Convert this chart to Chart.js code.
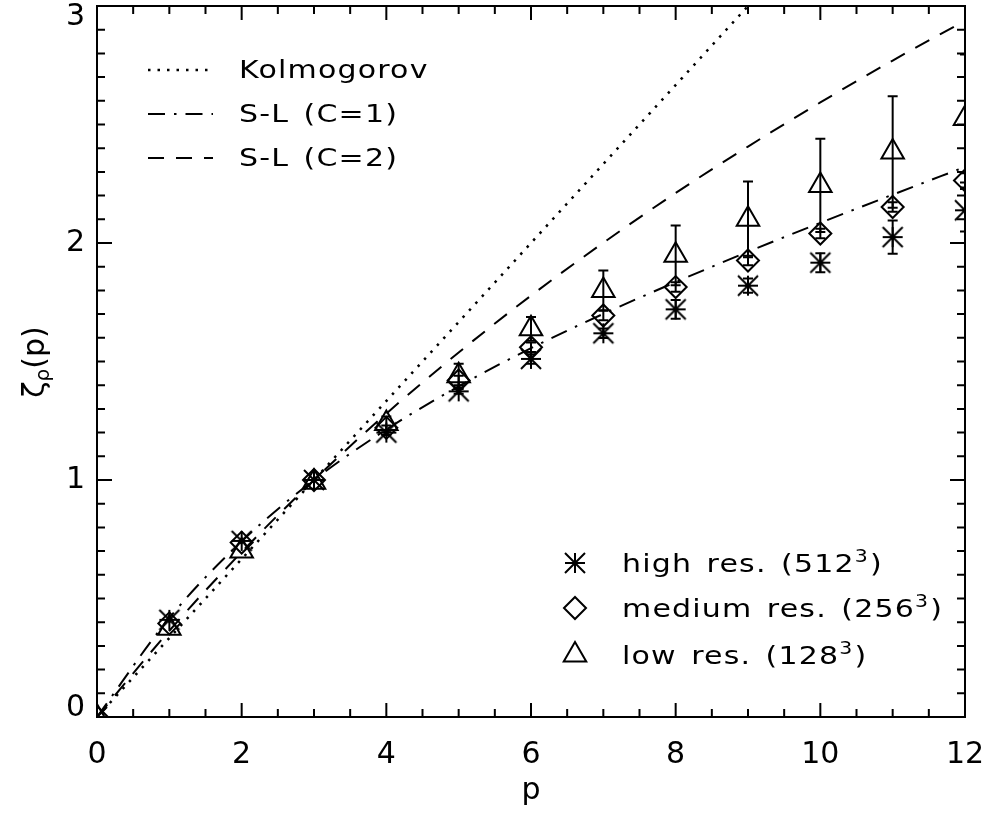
<!DOCTYPE html>
<html>
<head>
<meta charset="utf-8">
<script src="https://cdn.jsdelivr.net/npm/chart.js@4.4.0/dist/chart.umd.min.js"></script>
<style>
  html, body { margin: 0; padding: 0; background: #fff; }
  canvas { display: block; }
</style>
</head>
<body>
<canvas id="zetaChart" width="990" height="819"></canvas>
<script>
// moment order p of the structure functions
const orders = [0, 1, 2, 3, 4, 5, 6, 7, 8, 9, 10, 11, 12];

// measured scaling exponents and their errors
const highRes = [0, 0.41, 0.743, 1.0, 1.20, 1.374, 1.511, 1.619, 1.72, 1.82, 1.917, 2.025, 2.138];
const highResErr = [0, 0, 0, 0, 0.01, 0.01, 0.02, 0.02, 0.04, 0.03, 0.04, 0.07, 0.09];
const mediumRes = [0, 0.395, 0.736, 1.0, 1.22, 1.42, 1.56, 1.694, 1.814, 1.926, 2.04, 2.152, 2.264];
const mediumResErr = [0, 0, 0, 0, 0.01, 0.02, 0.02, 0.02, 0.02, 0.02, 0.02, 0.02, 0.03];
const lowRes = [0, 0.375, 0.70, 0.99, 1.238, 1.44, 1.638, 1.80, 1.948, 2.10, 2.243, 2.384, 2.525];
const lowResErr = [0, 0, 0, 0, 0.03, 0.05, 0.05, 0.084, 0.126, 0.16, 0.197, 0.235, 0.27];

// model curves
const kolmogorovOrders = [0, 9];
const kolmogorov = [0, 3];
const sheLevequeC1 = [0, 0.418, 0.741, 1.0, 1.213, 1.395, 1.556, 1.701, 1.835, 1.963, 2.085, 2.204, 2.321];
const sheLevequeC2 = [0, 0.364, 0.696, 1.0, 1.280, 1.538, 1.778, 2.001, 2.211, 2.407, 2.593, 2.770, 2.938];

const xTicks = [0, 2, 4, 6, 8, 10, 12];
const yTicks = [0, 1, 2, 3];

const FONT = '"DejaVu Sans", sans-serif';
const DOTS = [2.5, 7];
const DASH_DOT = [17, 9, 2.5, 9];
const DASHES = [16, 12];
const WIDEN = 1.2;

function toPoints(xs, ys) {
  return xs.map((x, i) => ({ x: x, y: ys[i] }));
}

// IDL-like asterisk: eight arms filling a square
function makeAsterisk(r) {
  const c = document.createElement('canvas');
  const s = 2 * r + 4;
  c.width = s; c.height = s;
  const g = c.getContext('2d');
  const m = s / 2;
  g.strokeStyle = '#000';
  g.lineWidth = 2;
  g.beginPath();
  g.moveTo(m - r, m); g.lineTo(m + r, m);
  g.moveTo(m, m - r); g.lineTo(m, m + r);
  g.moveTo(m - r, m - r); g.lineTo(m + r, m + r);
  g.moveTo(m + r, m - r); g.lineTo(m - r, m + r);
  g.stroke();
  return c;
}
const asterisk = makeAsterisk(10);

// horizontally stretched text, returns advance width
function wideText(ctx, text, x, y) {
  if ('wordSpacing' in ctx) ctx.wordSpacing = '3px';
  if ('letterSpacing' in ctx) ctx.letterSpacing = '1px';
  const w = ctx.measureText(text).width * WIDEN;
  ctx.save();
  ctx.translate(x, y);
  ctx.scale(WIDEN, 1);
  ctx.fillText(text, 0, 0);
  ctx.restore();
  if ('wordSpacing' in ctx) ctx.wordSpacing = '0px';
  if ('letterSpacing' in ctx) ctx.letterSpacing = '0px';
  return w;
}

// IDL-style frame: inward ticks on all four sides, labels, titles, legends
const idlAxes = {
  id: 'idlAxes',
  beforeDatasetsDraw(chart) {
    const { ctx, chartArea, scales } = chart;
    const xs = scales.x, ys = scales.y;
    ctx.save();
    ctx.beginPath();
    ctx.rect(chartArea.left, chartArea.top, chartArea.right - chartArea.left, chartArea.bottom - chartArea.top);
    ctx.clip();
    ctx.strokeStyle = '#000';
    ctx.lineWidth = 2;
    const sets = [[highRes, highResErr], [mediumRes, mediumResErr], [lowRes, lowResErr]];
    sets.forEach(([vals, errs]) => {
      orders.forEach((p, i) => {
        if (!errs[i]) return;
        const x = xs.getPixelForValue(p);
        const y1 = ys.getPixelForValue(vals[i] + errs[i]);
        const y2 = ys.getPixelForValue(vals[i] - errs[i]);
        ctx.beginPath();
        ctx.moveTo(x, y1); ctx.lineTo(x, y2);
        ctx.moveTo(x - 5, y1); ctx.lineTo(x + 5, y1);
        ctx.moveTo(x - 5, y2); ctx.lineTo(x + 5, y2);
        ctx.stroke();
      });
    });
    ctx.restore();
  },
  afterDraw(chart) {
    const { ctx, chartArea: a, scales } = chart;
    const xs = scales.x, ys = scales.y;
    ctx.save();
    ctx.strokeStyle = '#000';
    ctx.fillStyle = '#000';
    ctx.lineWidth = 2;
    ctx.setLineDash([]);
    ctx.strokeRect(a.left, a.top, a.right - a.left, a.bottom - a.top);

    // x ticks, every 0.5, major every 2
    ctx.beginPath();
    for (let k = 0; k <= 24; k++) {
      const x = xs.getPixelForValue(k * 0.5);
      const len = (k % 4 === 0) ? 14 : 8;
      ctx.moveTo(x, a.bottom); ctx.lineTo(x, a.bottom - len);
      ctx.moveTo(x, a.top); ctx.lineTo(x, a.top + len);
    }
    // y ticks, every 0.1, major every 1
    for (let k = 0; k <= 30; k++) {
      const y = ys.getPixelForValue(k / 10);
      const len = (k % 10 === 0) ? 15 : 8;
      ctx.moveTo(a.left, y); ctx.lineTo(a.left + len, y);
      ctx.moveTo(a.right, y); ctx.lineTo(a.right - len, y);
    }
    ctx.stroke();

    // tick labels
    ctx.font = '30px ' + FONT;
    ctx.textAlign = 'center';
    ctx.textBaseline = 'middle';
    xTicks.forEach(v => {
      ctx.fillText(String(v), xs.getPixelForValue(v), a.bottom + 38);
    });
    ctx.textAlign = 'right';
    yTicks.forEach(v => {
      let y = ys.getPixelForValue(v);
      y = Math.min(Math.max(y, a.top + 11), a.bottom - 9);
      ctx.fillText(String(v), a.left - 12, y);
    });

    // x title
    ctx.textAlign = 'center';
    ctx.textBaseline = 'alphabetic';
    ctx.font = '30px ' + FONT;
    ctx.fillText('p', (a.left + a.right) / 2, 799);

    // y title: zeta with rho subscript
    ctx.save();
    ctx.translate(44, 362);
    ctx.rotate(-Math.PI / 2);
    ctx.textAlign = 'left';
    const big = '30px ' + FONT, small = '20px ' + FONT;
    ctx.font = big; const wz = ctx.measureText('ζ').width;
    ctx.font = small; const wr = ctx.measureText('ρ').width;
    ctx.font = big; const wp = ctx.measureText('(p)').width;
    let tx = -(wz + wr + wp) / 2;
    ctx.font = big; ctx.fillText('ζ', tx, 0); tx += wz;
    ctx.font = small; ctx.fillText('ρ', tx, 5); tx += wr;
    ctx.font = big; ctx.fillText('(p)', tx, 0);
    ctx.restore();

    // model legend, top left
    const lineRows = [
      { label: 'Kolmogorov', dash: DOTS, width: 2.5, y: 70 },
      { label: 'S-L (C=1)', dash: DASH_DOT, width: 2, y: 114 },
      { label: 'S-L (C=2)', dash: DASHES, width: 2, y: 158 }
    ];
    ctx.font = '25px ' + FONT;
    ctx.textAlign = 'left';
    ctx.textBaseline = 'alphabetic';
    lineRows.forEach(r => {
      ctx.setLineDash(r.dash);
      ctx.lineWidth = r.width;
      ctx.beginPath();
      ctx.moveTo(148, r.y); ctx.lineTo(213, r.y);
      ctx.stroke();
      wideText(ctx, r.label, 239, r.y + 8);
    });
    ctx.setLineDash([]);
    ctx.lineWidth = 2;

    // data legend, bottom right
    const markRows = [
      { pre: 'high res. (512', style: asterisk, radius: 10, y: 563 },
      { pre: 'medium res. (256', style: 'rectRot', radius: 11, y: 608 },
      { pre: 'low res. (128', style: 'triangle', radius: 13, y: 655 }
    ];
    markRows.forEach(r => {
      ctx.lineWidth = 2;
      ctx.strokeStyle = '#000';
      ctx.fillStyle = 'rgba(0,0,0,0)';
      Chart.helpers.drawPoint(ctx, { pointStyle: r.style, radius: r.radius, rotation: 0, borderWidth: 2 }, 575, r.y);
      ctx.fillStyle = '#000';
      ctx.textBaseline = 'alphabetic';
      ctx.font = '25px ' + FONT;
      const base = r.y + 9;
      let tx2 = 622 + wideText(ctx, r.pre, 622, base);
      ctx.font = '17px ' + FONT;
      tx2 += wideText(ctx, '3', tx2, base - 10) + 1;
      ctx.font = '25px ' + FONT;
      wideText(ctx, ')', tx2, base);
    });
    ctx.restore();
  }
};

const markerDataset = (label, ys, style, radius) => ({
  label: label,
  data: toPoints(orders, ys),
  showLine: false,
  pointStyle: style,
  pointRadius: radius,
  pointBorderWidth: 2,
  pointBorderColor: '#000',
  pointBackgroundColor: 'rgba(0,0,0,0)',
  borderColor: '#000'
});

const curveDataset = (label, xs, ys, dash, width) => ({
  label: label,
  data: toPoints(xs, ys),
  borderColor: '#000',
  borderWidth: width,
  borderDash: dash,
  pointRadius: 0,
  fill: false,
  cubicInterpolationMode: 'monotone'
});

const ctx = document.getElementById('zetaChart').getContext('2d');
new Chart(ctx, {
  type: 'line',
  data: {
    datasets: [
      curveDataset('Kolmogorov', kolmogorovOrders, kolmogorov, DOTS, 2.5),
      curveDataset('S-L (C=1)', orders, sheLevequeC1, DASH_DOT, 2),
      curveDataset('S-L (C=2)', orders, sheLevequeC2, DASHES, 2),
      markerDataset('high res.', highRes, asterisk, 10),
      markerDataset('medium res.', mediumRes, 'rectRot', 11),
      markerDataset('low res.', lowRes, 'triangle', 13)
    ]
  },
  options: {
    responsive: false,
    animation: false,
    devicePixelRatio: 1,
    layout: { autoPadding: false, padding: { left: 97, right: 25, top: 6, bottom: 102 } },
    scales: {
      x: { type: 'linear', min: 0, max: 12, display: false },
      y: { type: 'linear', min: 0, max: 3, display: false }
    },
    plugins: {
      legend: { display: false },
      tooltip: { enabled: false }
    }
  },
  plugins: [idlAxes]
});
</script>
</body>
</html>
